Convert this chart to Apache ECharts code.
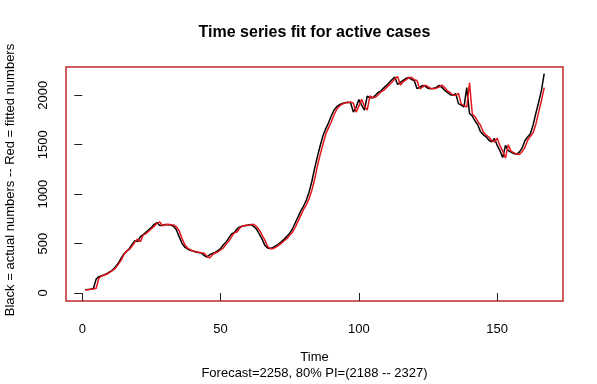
<!DOCTYPE html>
<html>
<head>
<meta charset="utf-8">
<script src="https://cdn.jsdelivr.net/npm/echarts@6/dist/echarts.min.js"></script>
<style>
html,body{margin:0;padding:0;background:#fff;}
#chart{width:597px;height:384px;}
</style>
</head>
<body>
<div id="chart"></div>
<script>
// ---- data ----
const titleText = "Time series fit for active cases";
const xTitle = "Time";
const yTitle = "Black = actual numbers -- Red = fitted numbers";
const subTitle = "Forecast=2258, 80% PI=(2188 -- 2327)";
const xTicks = [0, 50, 100, 150];
const yTicks = [0, 500, 1000, 1500, 2000];

const actual = [
  34, 36, 38, 45, 140, 165, 175, 185, 198, 215,
  235, 265, 300, 350, 395, 420, 450, 490, 530, 520,
  570, 590, 615, 640, 665, 695, 712, 682, 685, 692,
  690, 688, 675, 640, 570, 505, 465, 445, 432, 425,
  415, 410, 405, 380, 362, 385, 400, 410, 428, 450,
  488, 515, 560, 598, 612, 650, 668, 678, 680, 688,
  692, 672, 645, 595, 545, 482, 456, 450, 462, 478,
  498, 520, 545, 575, 605, 650, 710, 770, 830, 880,
  940, 1020, 1130, 1260, 1380, 1490, 1590, 1660, 1720, 1790,
  1850, 1885, 1905, 1918, 1925, 1930, 1925, 1830, 1880, 1956,
  1900, 1850, 1990, 1975, 1976, 2000, 2030, 2045, 2075, 2100,
  2130, 2160, 2185, 2110, 2130, 2150, 2170, 2180, 2160, 2150,
  2068, 2080, 2100, 2090, 2070, 2065, 2070, 2080, 2100, 2080,
  2050, 2030, 2005, 2000, 2017, 1916, 1900, 1882, 2078, 1815,
  1790, 1740, 1700, 1630, 1600, 1580, 1545, 1530, 1562, 1494,
  1440, 1370, 1494, 1440, 1425, 1410, 1403, 1425, 1465, 1540,
  1578, 1610, 1700, 1820, 1930, 2050, 2220
];

const fitted = [
  30, 34, 37, 40, 48, 150, 172, 182, 192, 210,
  228, 252, 290, 330, 385, 425, 440, 475, 515, 545,
  520, 585, 600, 625, 650, 675, 705, 720, 680, 690,
  695, 690, 688, 670, 630, 555, 490, 455, 438, 425,
  420, 412, 408, 402, 375, 355, 385, 405, 415, 435,
  455, 495, 525, 570, 610, 620, 660, 678, 685, 684,
  690, 695, 670, 638, 585, 535, 470, 448, 448, 465,
  482, 505, 528, 552, 585, 615, 665, 725, 785, 845,
  892, 955, 1040, 1150, 1285, 1400, 1505, 1605, 1670, 1730,
  1800, 1860, 1892, 1910, 1922, 1928, 1932, 1920, 1830, 1890,
  1960, 1890, 1850, 1995, 1975, 1980, 2005, 2035, 2050, 2080,
  2105, 2135, 2165, 2190, 2105, 2135, 2155, 2175, 2182, 2158,
  2150, 2065, 2082, 2102, 2088, 2068, 2065, 2072, 2083, 2102,
  2078, 2045, 2028, 2003, 2000, 2020, 1910, 1898, 1880, 2125,
  1810, 1785, 1735, 1695, 1625, 1598, 1578, 1540, 1528, 1565,
  1490, 1435, 1365, 1500, 1435, 1420, 1405, 1400, 1428, 1470,
  1545, 1585, 1620, 1710, 1830, 1945, 2078
];

// ---- chart ----
const pair = arr => arr.map((v, i) => [i + 1, v]);
const font = '"Liberation Sans", Arial, Helvetica, sans-serif';
const chart = echarts.init(document.getElementById('chart'), null, {renderer: 'canvas'});

chart.setOption({
  animation: false,
  backgroundColor: '#ffffff',
  textStyle: {fontFamily: font},
  grid: {
    left: 66, right: 34, top: 67, bottom: 83,
    show: true, borderColor: '#c0282a', borderWidth: 1.5,
    backgroundColor: 'transparent', containLabel: false
  },
  xAxis: {
    type: 'value', min: -5.9, max: 173.8,
    splitLine: {show: false},
    axisLine: {show: false},
    axisTick: {show: true, inside: false, length: 8, customValues: xTicks,
      lineStyle: {color: '#222', width: 1}},
    axisLabel: {show: true, customValues: xTicks, margin: 22, color: '#000',
      fontSize: 13, fontFamily: font, formatter: v => String(v)}
  },
  yAxis: {
    type: 'value', min: -81, max: 2286,
    splitLine: {show: false},
    axisLine: {show: false},
    axisTick: {show: true, inside: false, length: 8, customValues: yTicks,
      lineStyle: {color: '#222', width: 1}},
    axisLabel: {show: true, customValues: yTicks, rotate: 90, margin: 16, color: '#000',
      fontSize: 13, fontFamily: font, formatter: v => String(v)}
  },
  graphic: [
    {type: 'text', x: 314.5, y: 33, style: {text: titleText, fontSize: 16, fontWeight: 'bold',
      fontFamily: font, fill: '#000', textAlign: 'center', textVerticalAlign: 'middle'}},
    {type: 'text', x: 314.5, y: 357, style: {text: xTitle, fontSize: 13,
      fontFamily: font, fill: '#000', textAlign: 'center', textVerticalAlign: 'middle'}},
    {type: 'text', x: 314.5, y: 373, style: {text: subTitle, fontSize: 13,
      fontFamily: font, fill: '#000', textAlign: 'center', textVerticalAlign: 'middle'}},
    {type: 'text', x: 10, y: 180, rotation: Math.PI / 2, style: {text: yTitle, fontSize: 13,
      fontFamily: font, fill: '#000', textAlign: 'center', textVerticalAlign: 'middle'}}
  ],
  series: [
    {type: 'line', data: pair(actual), showSymbol: false, symbol: 'none',
      lineStyle: {color: '#000000', width: 1.5}, z: 2},
    {type: 'line', data: pair(fitted), showSymbol: false, symbol: 'none',
      lineStyle: {color: '#e3161b', width: 1.5}, z: 3}
  ]
});
</script>
</body>
</html>
